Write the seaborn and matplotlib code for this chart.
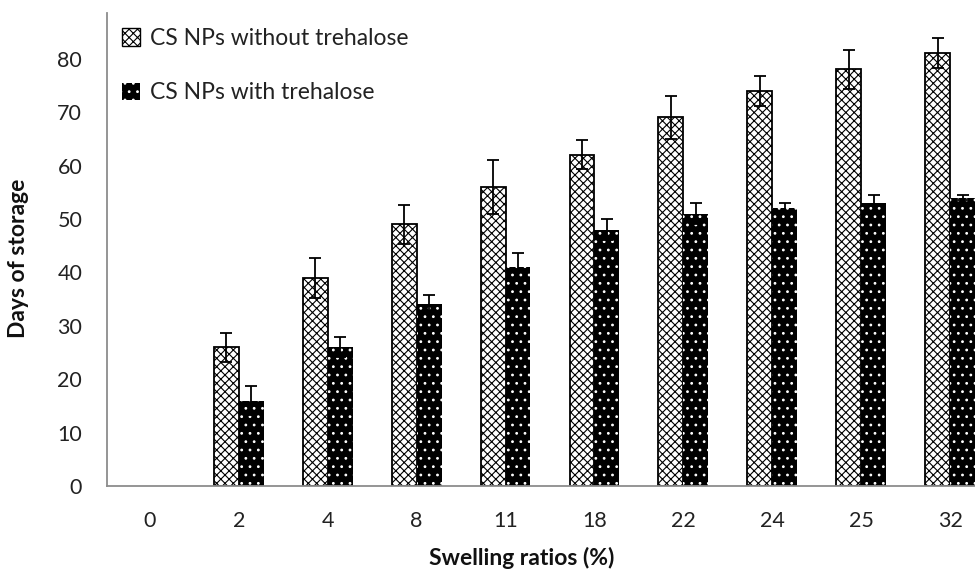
import numpy as np
import pandas as pd
import seaborn as sns
import matplotlib.pyplot as plt
from matplotlib.patches import Patch

# values
ratios = ['0', '2', '4', '8', '11', '18', '22', '24', '25', '32']
days_without = [0, 26, 39, 49, 56, 62, 69, 74, 78, 81]
err_without = [0, 2.7, 3.7, 3.6, 5.0, 2.7, 4.0, 2.8, 3.7, 2.8]
days_with = [0, 16, 26, 34, 41, 48, 51, 52, 53, 54]
err_with = [0, 2.7, 1.9, 1.8, 2.7, 1.9, 1.9, 1.0, 1.5, 0.5]
series = ['CS NPs without trehalose', 'CS NPs with trehalose']

sns.set_theme(style='white')
plt.rcParams['font.family'] = ['Lato', 'DejaVu Sans']
plt.rcParams['hatch.linewidth'] = 0.8

# long form table for seaborn
df = pd.DataFrame({
    'ratio': ratios * 2,
    'days': days_without + days_with,
    'group': [series[0]] * len(ratios) + [series[1]] * len(ratios),
})
errs = [err_without, err_with]

fig = plt.figure(figsize=(9.75, 5.74), dpi=100)
ax = fig.add_axes([0.110, 0.153, 0.890, 0.824])

sns.barplot(data=df, x='ratio', y='days', hue='group', order=ratios,
            hue_order=series, palette=['white', 'black'], width=0.56, gap=0,
            errorbar=None, edgecolor='black', linewidth=1.3, legend=False, ax=ax)

# patterns: weave-like hatch on white, white dots on black
ex = [[], []]
ey = [[], []]
ee = [[], []]
for bar in list(ax.patches):
    h = bar.get_height()
    xc = bar.get_x() + bar.get_width() / 2
    cat = int(round(xc))
    grp = 0 if bar.get_facecolor()[0] > 0.5 else 1
    if h == 0:
        bar.set_visible(False)
        continue
    if grp == 0:
        bar.set_hatch('xxxx')
    else:
        bar.set_edgecolor('white')
        bar.set_linewidth(0)
        bar.set_hatch('..')
    ex[grp].append(xc)
    ey[grp].append(h)
    ee[grp].append(errs[grp][cat])

for g in range(2):
    ax.errorbar(ex[g], ey[g], yerr=ee[g], fmt='none', ecolor='black',
                elinewidth=1.3, capsize=4, capthick=1.3, zorder=5)

ax.set_ylim(0, 88.5)
ax.set_xlim(-0.48, 9.28)
ax.set_yticks(range(0, 81, 10))
ax.tick_params(axis='both', length=0, pad=18, labelsize=15.5, labelcolor='#222222')

ax.set_xlabel('Swelling ratios (%)', fontsize=16.5, fontweight='bold', color='#111111')
ax.set_ylabel('Days of storage', fontsize=16.5, fontweight='bold', color='#111111')
ax.xaxis.set_label_coords(0.478, -0.128)
ax.yaxis.set_label_coords(-0.090, 0.482)

for s in ['top', 'right']:
    ax.spines[s].set_visible(False)
for s in ['left', 'bottom']:
    ax.spines[s].set_color('#8c8c8c')
    ax.spines[s].set_linewidth(1.3)

handles = [Patch(facecolor='white', edgecolor='black', hatch='xxxx'),
           Patch(facecolor='black', edgecolor='white', linewidth=0, hatch='..')]
ax.legend(handles, series, loc='upper left', bbox_to_anchor=(0.0, 1.0),
          frameon=False, fontsize=16.5, handlelength=0.8, handleheight=0.8,
          handletextpad=0.4, labelspacing=1.45, borderaxespad=0.25,
          labelcolor='#222222')

fig.savefig('out.png', dpi=100)
